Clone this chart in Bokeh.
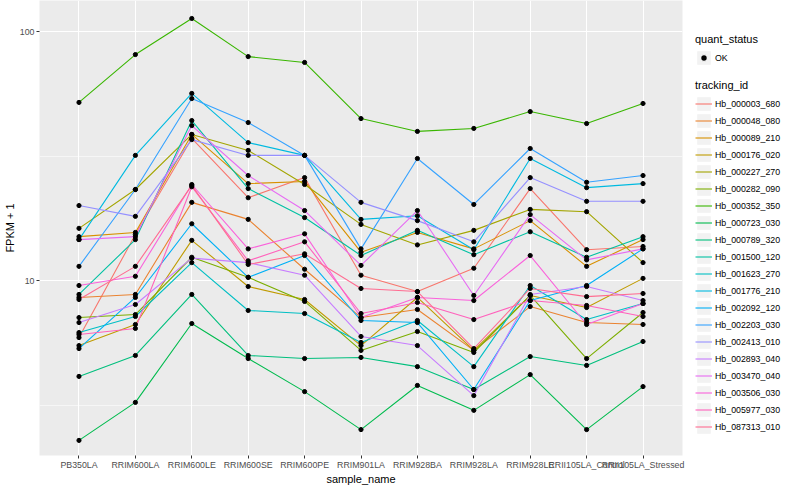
from bokeh.plotting import figure
from bokeh.models import (FactorRange, Range1d, FixedTicker,
                          PrintfTickFormatter, Legend, LegendItem)
from bokeh.core.properties import value
from bokeh.layouts import row, column
from bokeh.embed import file_html
from bokeh.resources import INLINE

# ---------------- data ----------------
samples = ["PB350LA", "RRIM600LA", "RRIM600LE", "RRIM600SE", "RRIM600PE",
           "RRIM901LA", "RRIM928BA", "RRIM928LA", "RRIM928LE",
           "RRII105LA_Control", "RRII105LA_Stressed"]

tracking_ids = ["Hb_000003_680", "Hb_000048_080", "Hb_000089_210", "Hb_000176_020",
                "Hb_000227_270", "Hb_000282_090", "Hb_000352_350", "Hb_000723_030",
                "Hb_000789_320", "Hb_001500_120", "Hb_001623_270", "Hb_001776_210",
                "Hb_002092_120", "Hb_002203_030", "Hb_002413_010", "Hb_002893_040",
                "Hb_003470_040", "Hb_003506_030", "Hb_005977_030", "Hb_087313_010"]

# FPKM + 1 per sample
hb_000003_680 = [5.90, 15.3, 37.2, 21.5, 25.9, 10.5, 9.03, 11.2, 23.4, 13.3, 13.7]
hb_000048_080 = [8.55, 8.79, 20.6, 17.6, 11.1, 7.10, 7.65, 5.24, 7.86, 6.78, 6.66]
hb_000089_210 = [15.0, 15.6, 38.6, 24.5, 25.0, 13.0, 15.6, 13.4, 17.4, 11.4, 14.6]
hb_000176_020 = [5.48, 6.66, 14.5, 9.46, 8.39, 5.48, 8.55, 5.24, 8.71, 7.79, 10.2]
hb_000227_270 = [16.2, 23.2, 38.6, 33.3, 24.3, 16.8, 13.9, 15.9, 19.3, 18.9, 11.8]
hb_000282_090 = [7.10, 7.30, 12.4, 10.3, 8.24, 5.24, 6.24, 5.14, 8.71, 4.86, 7.44]
hb_000352_350 = [51.9, 80.8, 112.8, 79.3, 75.1, 44.7, 39.7, 40.8, 47.7, 42.7, 51.4]
hb_000723_030 = [2.28, 3.24, 6.72, 4.86, 3.58, 2.52, 3.79, 3.01, 4.19, 2.52, 3.75]
hb_000789_320 = [4.12, 5.00, 8.79, 5.00, 4.86, 4.91, 4.51, 3.65, 4.95, 4.56, 5.69]
hb_001500_120 = [8.79, 14.6, 43.9, 23.4, 17.9, 12.6, 15.9, 12.7, 15.7, 12.4, 15.0]
hb_001623_270 = [6.18, 7.17, 11.8, 7.58, 7.37, 5.64, 6.91, 4.51, 9.55, 6.97, 8.08]
hb_001776_210 = [14.6, 31.8, 56.4, 35.8, 31.8, 17.6, 18.2, 13.3, 30.9, 23.6, 24.5]
hb_002092_120 = [5.33, 8.55, 16.9, 10.3, 12.6, 6.91, 6.78, 3.65, 8.31, 9.55, 13.4]
hb_002203_030 = [11.4, 23.2, 53.8, 43.1, 31.8, 13.4, 30.9, 20.2, 33.9, 24.8, 26.4]
hb_002413_010 = [20.0, 18.1, 36.8, 31.8, 31.8, 20.6, 17.4, 14.3, 25.9, 20.8, 20.8]
hb_002893_040 = [6.78, 8.01, 12.3, 11.8, 10.5, 5.96, 5.48, 3.45, 8.79, 9.46, 8.31]
hb_003470_040 = [14.6, 15.0, 41.9, 26.4, 19.1, 11.5, 19.1, 8.71, 18.4, 12.1, 13.4]
hb_003506_030 = [9.55, 10.4, 24.3, 13.4, 15.4, 7.10, 8.55, 8.31, 12.6, 6.66, 8.08]
hb_005977_030 = [6.07, 6.42, 23.8, 12.0, 14.3, 7.37, 8.16, 6.97, 8.31, 7.94, 7.17]
hb_087313_010 = [8.39, 11.4, 24.1, 11.6, 12.8, 9.29, 9.03, 5.33, 9.29, 8.62, 8.87]

series = [hb_000003_680, hb_000048_080, hb_000089_210, hb_000176_020, hb_000227_270,
          hb_000282_090, hb_000352_350, hb_000723_030, hb_000789_320, hb_001500_120,
          hb_001623_270, hb_001776_210, hb_002092_120, hb_002203_030, hb_002413_010,
          hb_002893_040, hb_003470_040, hb_003506_030, hb_005977_030, hb_087313_010]

colors = ["#F8766D", "#EA8331", "#D89000", "#C09B00", "#A3A500", "#7CAE00", "#39B600",
          "#00BB4E", "#00BF7D", "#00C1A3", "#00BFC4", "#00BAE0", "#00B0F6", "#35A2FF",
          "#9590FF", "#C77CFF", "#E76BF3", "#FA62DB", "#FF62BC", "#FF6C91"]

y_ticks = [10, 100]
y_minor_ticks = [3.1623, 31.623]

FONT = "Liberation Sans"

# ---------------- main panel ----------------
p = figure(x_range=FactorRange(factors=samples, range_padding=0.2,
                               range_padding_units="absolute"),
           y_range=Range1d(1.983, 133.2), y_axis_type="log",
           frame_width=643, frame_height=455,
           min_border_left=32, min_border_right=10,
           min_border_top=0, min_border_bottom=29,
           output_backend="svg", toolbar_location=None,
           background_fill_color="#EBEBEB", border_fill_color="white")
p.outline_line_color = None

for vals, c in zip(series, colors):
    p.line(x=samples, y=vals, line_color=c, line_width=1.1)
for vals in series:
    p.scatter(x=samples, y=vals, size=4.2, fill_color="black", line_color="black")

p.xaxis.axis_label = "sample_name"
p.yaxis.axis_label = "FPKM + 1"
for ax in (p.xaxis[0], p.yaxis[0]):
    ax.axis_line_color = None
    ax.major_tick_line_color = "#333333"
    ax.major_tick_out = 3
    ax.major_tick_in = 0
    ax.minor_tick_line_color = None
    ax.major_label_text_font = FONT
    ax.major_label_text_font_size = "8.8px"
    ax.major_label_text_color = "#4D4D4D"
    ax.axis_label_text_font = FONT
    ax.axis_label_text_font_size = "11px"
    ax.axis_label_text_font_style = "normal"
    ax.axis_label_text_color = "black"
p.xaxis.major_label_standoff = 1
p.xaxis.axis_label_standoff = 0
p.yaxis.major_label_standoff = 1
p.yaxis.axis_label_standoff = 1
p.yaxis.ticker = FixedTicker(ticks=y_ticks, minor_ticks=y_minor_ticks)
p.yaxis.formatter = PrintfTickFormatter(format="%d")

p.xgrid.grid_line_color = "white"
p.xgrid.grid_line_width = 1.1
p.ygrid.grid_line_color = "white"
p.ygrid.grid_line_width = 1.1
p.ygrid.minor_grid_line_color = "white"
p.ygrid.minor_grid_line_width = 0.55


# ---------------- legend panels ----------------
# legend keys need a renderer with data; the data sit outside the visible range
off = [5.0]


def legend_fig(height, top):
    f = figure(width=99, height=height, x_axis_type=None, y_axis_type=None,
               x_range=Range1d(0, 1), y_range=Range1d(0, 1),
               toolbar_location=None, output_backend="svg",
               min_border_left=0, min_border_right=0, min_border_bottom=0,
               min_border_top=top,
               background_fill_color="white", border_fill_color="white")
    f.outline_line_color = None
    return f


def style_legend(lg):
    lg.location = "top_left"
    lg.padding = 0
    lg.margin = 3
    lg.spacing = 0
    lg.border_line_color = None
    lg.background_fill_alpha = 0
    lg.glyph_width = 17
    lg.glyph_height = 17
    lg.label_height = 17
    lg.label_standoff = 3
    lg.label_text_font = FONT
    lg.label_text_font_size = "8.8px"
    lg.label_text_color = "black"
    lg.title_text_font = FONT
    lg.title_text_font_size = "11px"
    lg.title_text_font_style = "normal"
    lg.title_text_color = "black"
    lg.title_standoff = 4


lp1 = legend_fig(70, 30)
box1 = lp1.quad(left=off, right=[6.0], bottom=off, top=[6.0],
                fill_color="#F2F2F2", line_color=None)
pt_r = lp1.scatter(x=off, y=off, size=4, fill_color="black",
                   line_color="#F2F2F2", line_width=1.4)
leg1 = Legend(items=[LegendItem(label=value("OK"), renderers=[box1, pt_r])],
              title="quant_status")
style_legend(leg1)
lp1.add_layout(leg1, "center")

lp2 = legend_fig(414, 6)
box2 = lp2.quad(left=off, right=[6.0], bottom=off, top=[6.0],
                fill_color="#F2F2F2", line_color=None)
items = []
for tid, c in zip(tracking_ids, colors):
    lr = lp2.line(x=[5.0, 6.0], y=[5.0, 6.0], line_color=c, line_width=1.1)
    items.append(LegendItem(label=value(tid), renderers=[box2, lr]))
leg2 = Legend(items=items, title="tracking_id")
style_legend(leg2)
lp2.add_layout(leg2, "center")

layout = row(p, column(lp1, lp2))
open("out.html", "w").write(file_html(layout, INLINE))
